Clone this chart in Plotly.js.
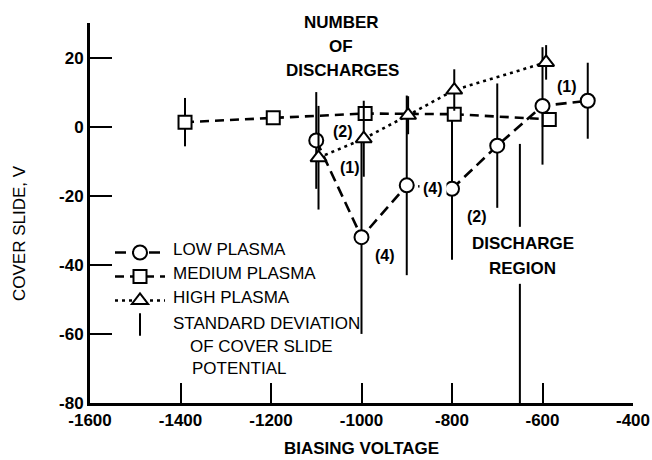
<!DOCTYPE html>
<html><head><meta charset="utf-8">
<script src="https://cdn.plot.ly/plotly-3.0.1.min.js"></script>
<style>html,body{margin:0;padding:0;background:#fff}</style>
</head><body><div id="chart" style="width:652px;height:460px"></div>
<script>
// ---- data ----
const lowX  = [-1100, -1000, -900, -800, -700, -600, -500];
const lowY  = [-4, -32, -17, -18, -5.5, 6, 7.5];
const lowSD = [14, 28, 26, 20.5, 18, 17, 11];

const medX  = [-1390, -1195, -992, -795, -585];
const medY  = [1.3, 2.6, 3.8, 3.6, 2.1];
const medSD = [7, 0, 0, 0, 0];

const highX  = [-1095, -995, -897, -795, -592];
const highY  = [-9, -3.5, 3.3, 10.6, 18.6];
const highSD = [15, 11, 5.5, 6, 5];

const xTickVals = [-1600, -1400, -1200, -1000, -800, -600, -400];
const xTickText = ['-1600', '-1400', '-1200', '-1000', '-800', '-600', '-400'];
const yTickVals = [-80, -60, -40, -20, 0, 20];
const yTickText = ['-80', '-60', '-40', '-20', '0', '20'];

const dischargeX = -650;
const dischargeSegs = [[-5, -29], [-45.5, -80]];

const countText = ['(2)', '(1)', '(4)', '(4)', '(2)', '(1)'];
const countX = [-1041, -1025, -948, -843, -745, -546];
const countY = [-1.5, -11.7, -37.2, -17.8, -26.1, 11.6];

const seriesNames = ['LOW PLASMA', 'MEDIUM PLASMA', 'HIGH PLASMA', 'STANDARD DEVIATION'];
const sdNoteLines = ['OF COVER SLIDE', 'POTENTIAL'];
const headerLines = ['NUMBER', 'OF', 'DISCHARGES'];
const regionLines = ['DISCHARGE', 'REGION'];

// ---- styling ----
const FONT = "'Liberation Sans', Arial, sans-serif";
const L = 90, R = 19, T = 23, B = 57, W = 652, H = 460;
const PW = W - L - R, PH = H - T - B;
const px = x => (x - L) / PW;
const py = y => (H - B - y) / PH;

function series(x, y, sd, symbol, size, dash, group) {
  return {
    x: x, y: y, type: 'scatter', mode: 'lines+markers', name: ' ',
    legendgroup: group,
    line: {color: '#000', width: 2.6, dash: dash},
    marker: {symbol: symbol, size: size, color: '#fff', line: {color: '#000', width: 2}},
    error_y: {type: 'data', array: sd, visible: true, width: 0, thickness: 2, color: '#000'},
    hoverinfo: 'x+y'
  };
}

const traces = [
  series(lowX, lowY, lowSD, 'circle', 14, '11px,6px', 'g1'),
  series(medX, medY, medSD, 'square', 13, '9px,6px', 'g2'),
  series(highX, highY, highSD, 'triangle-up', 14, '3px,4px', 'g3'),
  {x: [null], y: [null], type: 'scatter', mode: 'markers', name: ' ', legendgroup: 'g4',
   marker: {symbol: 'line-ns-open', size: 16, color: '#000', line: {color: '#000', width: 2}}}
];

const shapes = dischargeSegs.map(s => ({
  type: 'line', xref: 'x', yref: 'y', x0: dischargeX, x1: dischargeX, y0: s[0], y1: s[1],
  line: {color: '#000', width: 2}
}));

const ann = [];
function txt(text, x, y, opts) {
  ann.push(Object.assign({text: text, x: x, y: y, xref: 'paper', yref: 'paper', showarrow: false,
    xanchor: 'center', yanchor: 'middle', font: {family: FONT, size: 17, color: '#000'}}, opts || {}));
}
// header
const headerPix = [[341, 22], [341, 46.7], [342, 70.7]];
headerLines.forEach((t, i) => txt('<b>' + t + '</b>', px(headerPix[i][0]), py(headerPix[i][1])));
// discharge region
const regionPix = [[522.7, 243.3], [522.7, 268.3]];
regionLines.forEach((t, i) => txt('<b>' + t + '</b>', px(regionPix[i][0]), py(regionPix[i][1])));
// counts
countText.forEach((t, i) => ann.push({text: '<b>' + t + '</b>', x: countX[i], y: countY[i], xref: 'x', yref: 'y',
  showarrow: false, xanchor: 'center', yanchor: 'middle', bgcolor: i === 3 ? '#fff' : 'rgba(0,0,0,0)',
  borderpad: i === 3 ? 3 : 1, font: {family: FONT, size: 16, color: '#000'}}));
// legend texts
const legPix = [249.3, 273.3, 297.3, 323.3];
seriesNames.forEach((t, i) => txt(t, px(170.7), py(legPix[i]), {xanchor: 'left'}));
txt(sdNoteLines[0], px(188.3), py(346), {xanchor: 'left'});
txt(sdNoteLines[1], px(190), py(368.3), {xanchor: 'left'});
// y title
txt('COVER SLIDE, V', px(20), py(233), {textangle: -90});

const axisCommon = {
  showgrid: false, zeroline: false, showline: true, linecolor: '#000', linewidth: 3,
  ticks: 'inside', tickcolor: '#000', tickwidth: 2, mirror: false,
  tickfont: {family: FONT, size: 17, color: '#000', weight: 'bold'}, fixedrange: true
};

const layout = {
  width: W, height: H, margin: {l: L, r: R, t: T, b: B},
  paper_bgcolor: '#fff', plot_bgcolor: '#fff',
  showlegend: true,
  legend: {x: px(110), y: py(238), xanchor: 'left', yanchor: 'top', bgcolor: 'rgba(0,0,0,0)',
    traceorder: 'grouped', tracegroupgap: 5, itemwidth: 50, font: {family: FONT, size: 12}},
  xaxis: Object.assign({}, axisCommon, {range: [-1600, -400], tickvals: xTickVals, ticktext: xTickText,
    ticklen: 20, title: {text: '<b>BIASING VOLTAGE</b>', font: {family: FONT, size: 17, color: '#000'}, standoff: 13}}),
  yaxis: Object.assign({}, axisCommon, {range: [-80, 30], tickvals: yTickVals, ticktext: yTickText,
    ticklen: 22}),
  shapes: shapes,
  annotations: ann
};

Plotly.newPlot('chart', traces, layout, {displayModeBar: false, staticPlot: true});
</script></body></html>
